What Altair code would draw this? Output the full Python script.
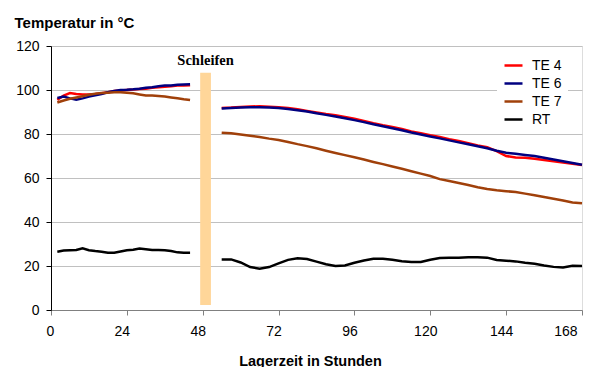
import altair as alt
import pandas as pd

# ---- data ----
hours1 = [2, 4, 6, 8, 10, 12, 14, 16, 18, 20, 22, 24, 26, 28, 30, 32, 34, 36, 38, 40, 42, 44]
te4_1 = [95.5, 97.5, 98.6, 98.2, 98.0, 98.0, 98.2, 98.5, 99.0, 99.5, 99.8, 100.0, 100.2, 100.5, 100.6, 101.0, 101.2, 101.5, 101.7, 102.0, 102.0, 102.2]
te6_1 = [96.4, 97.0, 96.2, 95.6, 96.2, 97.0, 97.6, 98.2, 99.0, 99.5, 100.0, 100.1, 100.3, 100.6, 101.0, 101.3, 101.7, 102.0, 102.1, 102.4, 102.5, 102.6]
te7_1 = [94.3, 95.2, 96.0, 96.6, 97.2, 97.8, 98.3, 98.6, 98.8, 99.0, 99.0, 98.8, 98.5, 98.0, 97.5, 97.5, 97.3, 97.0, 96.6, 96.2, 95.8, 95.5]
rt_1 = [26.5, 27.0, 27.2, 27.3, 28.0, 27.2, 26.8, 26.5, 26.0, 26.0, 26.6, 27.2, 27.4, 27.9, 27.6, 27.3, 27.3, 27.2, 26.8, 26.2, 26.0, 26.0]

hours2 = [54, 57, 60, 63, 66, 69, 72, 75, 78, 81, 84, 87, 90, 93, 96, 99, 102, 105, 108, 111,
          114, 117, 120, 123, 126, 129, 132, 135, 138, 141, 144, 147, 150, 153, 156, 159, 162, 165, 168]
te4_2 = [91.8, 92.0, 92.3, 92.5, 92.6, 92.4, 92.2, 91.8, 91.2, 90.5, 89.8, 89.1, 88.5, 87.7, 86.9, 85.9, 84.9, 84.0, 83.2, 82.3,
         81.2, 80.3, 79.4, 78.6, 77.6, 76.8, 75.8, 74.8, 74.0, 72.2, 70.0, 69.3, 69.2, 68.8, 68.2, 67.6, 67.0, 66.5, 65.9]
te6_2 = [91.6, 91.8, 92.0, 92.2, 92.2, 92.0, 91.8, 91.4, 90.8, 90.2, 89.4, 88.7, 88.0, 87.2, 86.3, 85.4, 84.4, 83.5, 82.6, 81.7,
         80.7, 79.8, 78.9, 78.0, 77.1, 76.2, 75.3, 74.4, 73.5, 72.4, 71.5, 71.0, 70.5, 70.0, 69.2, 68.4, 67.6, 66.8, 66.0]
te7_2 = [80.6, 80.3, 79.8, 79.2, 78.6, 77.9, 77.3, 76.4, 75.4, 74.5, 73.5, 72.4, 71.4, 70.4, 69.4, 68.4, 67.3, 66.3, 65.2, 64.2,
         63.1, 62.0, 60.9, 59.5, 58.6, 57.7, 56.8, 55.8, 55.0, 54.4, 54.0, 53.6, 52.9, 52.2, 51.4, 50.6, 49.8, 48.9, 48.5]
rt_2 = [23.0, 23.0, 21.6, 19.5, 18.8, 19.5, 21.2, 22.8, 23.5, 23.2, 22.0, 20.8, 20.0, 20.2, 21.5, 22.5, 23.3, 23.3, 22.8, 22.2,
        21.8, 21.8, 22.8, 23.6, 23.7, 23.8, 24.0, 24.0, 23.8, 22.7, 22.4, 22.1, 21.5, 21.0, 20.2, 19.6, 19.3, 20.1, 20.0]

series_names = ["TE 4", "TE 6", "TE 7", "RT"]
series_colors = ["#FF0000", "#000080", "#A0400A", "#000000"]
series_widths = [2.5, 2.5, 2.5, 1.8]

band_label = ["Schleifen"]
band_start = [47.2]
band_end = [50.6]
band_low = [2.3]
band_high = [107.8]
band_label_y = [113.0]

# ---- build table ----
rows = []
for name, s1, s2 in zip(series_names, [te4_1, te6_1, te7_1, rt_1], [te4_2, te6_2, te7_2, rt_2]):
    for h, v in zip(hours1, s1):
        rows.append({"Serie": name, "seg": name + "_1", "h": h, "T": v})
    for h, v in zip(hours2, s2):
        rows.append({"Serie": name, "seg": name + "_2", "h": h, "T": v})
df = pd.DataFrame(rows)

band_df = pd.DataFrame({"label": band_label, "x1": band_start, "x2": band_end,
                        "y1": band_low, "y2": band_high, "ly": band_label_y})
band_df["xm"] = (band_df["x1"] + band_df["x2"]) / 2

x_scale = alt.Scale(domain=[0, 168], nice=False, zero=False)
y_scale = alt.Scale(domain=[0, 120], nice=False)

band = alt.Chart(band_df).mark_rect(color="#FFD699").encode(
    x=alt.X("x1:Q", scale=x_scale,
            axis=alt.Axis(values=list(range(0, 169, 24)), title="Lagerzeit in Stunden",
                          grid=False, domainColor="#808080", tickColor="#808080",
                          tickSize=5, labelPadding=9, labelOffset=-5,
                          labelFontSize=14, labelFont="Liberation Sans", labelColor="#000",
                          titleFont="Liberation Sans", titleFontSize=14.5, titleFontWeight="bold",
                          titleColor="#000", titleY=55, titleBaseline="alphabetic", titleX=259)),
    x2="x2:Q",
    y=alt.Y("y1:Q", scale=y_scale,
            axis=alt.Axis(values=list(range(0, 121, 20)), title="Temperatur in °C",
                          grid=True, gridColor="#C0C0C0", gridWidth=1,
                          domainColor="#000", tickColor="#000", tickSize=5, labelPadding=7,
                          labelFontSize=14, labelFont="Liberation Sans", labelColor="#000",
                          titleFont="Liberation Sans", titleFontSize=15, titleFontWeight="bold",
                          titleColor="#000", titleAngle=0, titleAlign="left",
                          titleBaseline="alphabetic", titleX=-37, titleY=-19)),
    y2="y2:Q",
)

band_text = alt.Chart(band_df).mark_text(
    font="Liberation Serif", fontSize=14.5, fontWeight="bold", color="#000", baseline="middle"
).encode(x=alt.X("xm:Q", scale=x_scale), y=alt.Y("ly:Q", scale=y_scale), text="label:N")

lines = alt.Chart(df).mark_line().encode(
    x=alt.X("h:Q", scale=x_scale),
    y=alt.Y("T:Q", scale=y_scale),
    detail="seg:N",
    color=alt.Color("Serie:N", sort=series_names,
                    scale=alt.Scale(domain=series_names, range=series_colors),
                    legend=alt.Legend(title=None, orient="none", legendX=446, legendY=3,
                                      fillColor="#FFFFFF", padding=6,
                                      symbolType="stroke", symbolSize=324, symbolStrokeWidth=2.5,
                                      labelFontSize=14, labelFont="Liberation Sans",
                                      labelColor="#000", rowPadding=0, labelOffset=8)),
    strokeWidth=alt.StrokeWidth("Serie:N", scale=alt.Scale(domain=series_names, range=series_widths),
                                legend=None),
    order=alt.Order("h:Q"),
)

chart = alt.layer(band, band_text, lines).properties(
    width=531, height=264,
    autosize=alt.AutoSizeParams(type="none"),
    padding={"left": 43, "top": 38, "right": 6, "bottom": 57},
).configure_view(stroke="#444444", strokeWidth=1).configure(background="#FFFFFF")

chart.save("out.html", embed_options={"renderer": "svg", "actions": False})
